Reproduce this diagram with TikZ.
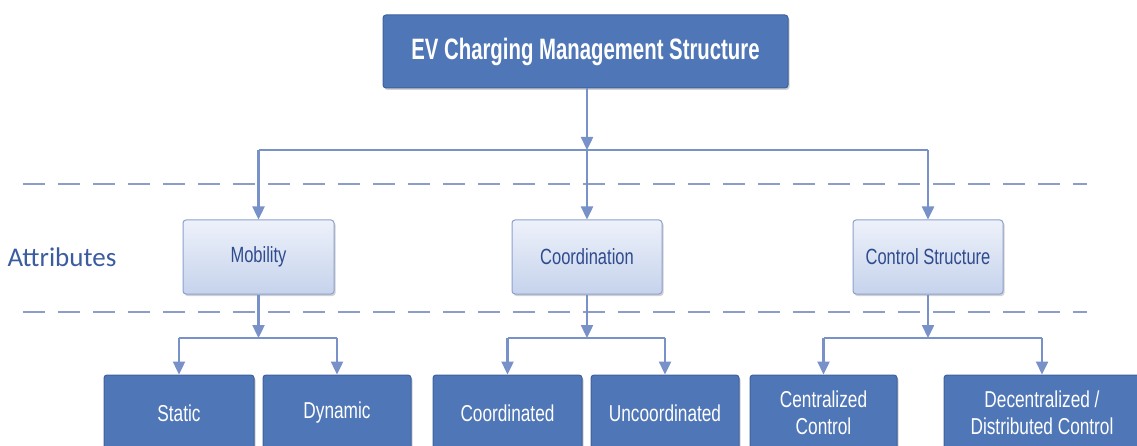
\documentclass[tikz,border=0pt]{standalone}
\usepackage{fontspec}
\setmainfont{Liberation Sans}
\newfontfamily\boxfont{Liberation Sans}[FakeStretch=0.75]
\newfontfamily\titlefont{Liberation Sans}[FakeStretch=0.69]
\newfontfamily\attrfont{Carlito}
\usetikzlibrary{arrows.meta,shadows}

\definecolor{darkbox}{HTML}{4F76B6}
\definecolor{darkedge}{HTML}{3F619E}
\definecolor{lighttop}{HTML}{EDF1FA}
\definecolor{lightbot}{HTML}{C6D3EC}
\definecolor{lightedge}{HTML}{8CA1CF}
\definecolor{lighttext}{HTML}{2E4B8E}
\definecolor{linkcol}{HTML}{7891C8}
\definecolor{dashcol}{HTML}{8C9DC7}
\definecolor{attrcol}{HTML}{3C5CA0}

\tikzset{
  x=1pt, y=-1pt,
  boxshadow/.style={drop shadow={shadow xshift=1.5pt, shadow yshift=-2pt, opacity=0.25, fill=black!70}},
  topbox/.style={draw=darkedge, line width=1pt, fill=darkbox, rounded corners=3pt, boxshadow,
    text=white, font=\titlefont\bfseries\fontsize{29.5}{33}\selectfont, inner sep=0pt},
  attrbox/.style={draw=lightedge, line width=1pt, top color=lighttop, bottom color=lightbot,
    rounded corners=3pt, boxshadow, text=lighttext,
    font=\boxfont\fontsize{22}{26}\selectfont, inner sep=0pt},
  leafbox/.style={draw=darkedge, line width=1pt, fill=darkbox, rounded corners=3pt, boxshadow,
    text=white, font=\boxfont\fontsize{23}{27}\selectfont, align=center, inner sep=0pt},
  link/.style={draw=linkcol, line width=2.4pt},
  arr/.style={link, -{Triangle[width=12pt,length=13pt]}},
  sep/.style={draw=dashcol, line width=2pt, dash pattern=on 22pt off 13pt},
}

\begin{document}
\begin{tikzpicture}
\clip (0,0) rectangle (1137,446);
\useasboundingbox (0,0) rectangle (1137,446);
\fill[white] (0,0) rectangle (1137,446);

% separators of the attribute band
\draw[sep] (23,184) -- (1087,184);
\draw[sep] (23,312) -- (1087,312);

% label of the band
\node[text=attrcol, font=\attrfont\fontsize{27}{31}\selectfont, anchor=west] (attr) at (4,257) {Attributes};

% root
\node[topbox, minimum width=405pt, minimum height=73pt] (root) at (585.5,51.5) {EV Charging Management Structure};

% attribute boxes
\node[attrbox, minimum width=151pt, minimum height=74pt] (mob) at (258.5,257) {Mobility};
\node[attrbox, minimum width=150pt, minimum height=74pt] (coo) at (587,257) {Coordination};
\node[attrbox, minimum width=150pt, minimum height=74pt] (ctl) at (928,257) {Control Structure};

% leaf boxes
\node[leafbox, minimum width=150pt, minimum height=76pt] (sta) at (179,413) {Static};
\node[leafbox, minimum width=148pt, minimum height=76pt] (dyn) at (337,413) {Dynamic};
\node[leafbox, minimum width=149pt, minimum height=76pt] (cod) at (507.5,413) {Coordinated};
\node[leafbox, minimum width=148pt, minimum height=76pt] (unc) at (665,413) {Uncoordinated};
\node[leafbox, minimum width=147pt, minimum height=76pt] (cen) at (823.5,413) {Centralized\\Control};
\node[leafbox, minimum width=196pt, minimum height=76pt] (dec) at (1042,413) {Decentralized /\\Distributed Control};

% branch points
\coordinate (j0) at (587,150);
\coordinate (jl) at (258.5,150);
\coordinate (jr) at (928,150);
\coordinate (m1) at (258.5,338);
\coordinate (m1l) at (179,338);
\coordinate (m1r) at (337,338);
\coordinate (m2) at (587,338);
\coordinate (m2l) at (507.5,338);
\coordinate (m2r) at (665,338);
\coordinate (m3) at (928,338);
\coordinate (m3l) at (823.5,338);
\coordinate (m3r) at (1042,338);

% root to attributes
\draw[link] (jl) -- (jr);
\draw[arr] (root.south -| j0) -- (j0);
\draw[arr] (j0) -- (coo.north);
\draw[arr] (jl) -- (mob.north);
\draw[arr] (jr) -- (ctl.north);

% attributes to leaves
\draw[link] (m1l) -- (m1r);
\draw[arr] (mob.south) -- (m1);
\draw[arr] (m1l) -- (sta.north);
\draw[arr] (m1r) -- (dyn.north);

\draw[link] (m2l) -- (m2r);
\draw[arr] (coo.south) -- (m2);
\draw[arr] (m2l) -- (cod.north);
\draw[arr] (m2r) -- (unc.north);

\draw[link] (m3l) -- (m3r);
\draw[arr] (ctl.south) -- (m3);
\draw[arr] (m3l) -- (cen.north);
\draw[arr] (m3r) -- (dec.north);
\end{tikzpicture}
\end{document}
